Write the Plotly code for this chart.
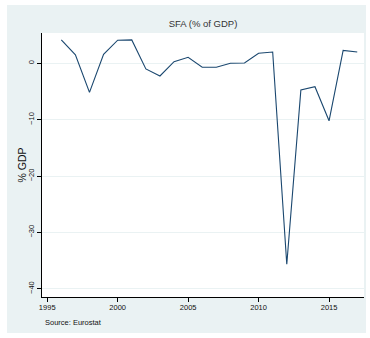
import plotly.graph_objects as go

# Stock-flow adjustment, % of GDP
years = list(range(1996, 2018))
sfa = [4.15, 1.5, -5.15, 1.6, 4.1, 4.15, -1.0, -2.25, 0.3, 1.07, -0.7,
       -0.7, 0.0, 0.06, 1.78, 2.0, -35.65, -4.74, -4.15, -10.2, 2.3, 2.0]

x_ticks = [1995, 2000, 2005, 2010, 2015]
y_ticks = [0, -10, -20, -30, -40]
y_tick_text = ["0", "\u221210", "\u221220", "\u221230", "\u221240"]

W, H = 370, 338
L, R, T, B = 42, 6, 33, 41

OUTER = "#eaf2f3"
LINE = "#1a476f"
FONT = "Liberation Sans, Arial, sans-serif"

fig = go.Figure()
fig.add_trace(go.Scatter(x=years, y=sfa, mode="lines",
                         line=dict(color=LINE, width=1.1),
                         hoverinfo="x+y", showlegend=False))

pw = W - L - R
ph = H - T - B


def px_to_paper_x(px):
    return (px - L) / pw


def px_to_paper_y(py):
    return (H - B - py) / ph


shapes = [
    # graph region background
    dict(type="rect", xref="paper", yref="paper", layer="below",
         x0=px_to_paper_x(7), x1=px_to_paper_x(366),
         y0=px_to_paper_y(333), y1=px_to_paper_y(5),
         fillcolor=OUTER, line=dict(width=0)),
    # plot region
    dict(type="rect", xref="paper", yref="paper", layer="below",
         x0=0, x1=1, y0=0, y1=1,
         fillcolor="white", line=dict(width=0)),
]

fig.update_layout(
    width=W, height=H,
    margin=dict(l=L, r=R, t=T, b=B, pad=0),
    paper_bgcolor="white",
    plot_bgcolor="white",
    font=dict(family=FONT, color="#000000", size=8),
    shapes=shapes,
    title=dict(text="SFA (% of GDP)", x=203 / W,
               xanchor="center", y=1 - 24 / H, yanchor="middle",
               font=dict(family=FONT, size=9.5, color="#333333")),
    xaxis=dict(range=[1994.63, 2017.48], tickvals=x_ticks,
               ticktext=[str(v) for v in x_ticks],
               showgrid=False, zeroline=False,
               showline=True, linecolor="black", linewidth=1,
               ticks="outside", ticklen=4, tickcolor="black", tickwidth=1,
               ticklabelstandoff=-1,
               tickfont=dict(size=7.5, family=FONT, color="#111111")),
    yaxis=dict(range=[-41.47, 5.38], tickvals=y_ticks, ticktext=y_tick_text,
               tickangle=-90,
               showgrid=True, gridcolor=OUTER, gridwidth=1,
               zeroline=False,
               showline=True, linecolor="black", linewidth=1,
               ticks="outside", ticklen=4, tickcolor="black", tickwidth=1,
               tickfont=dict(size=7.5, family=FONT, color="#111111")),
    annotations=[
        dict(text="% GDP", xref="paper", yref="paper",
             x=px_to_paper_x(21.5), y=0.5, textangle=-90,
             xanchor="center", yanchor="middle", showarrow=False,
             font=dict(size=10.5, family=FONT, color="#111111")),
        dict(text="Source: Eurostat", xref="paper", yref="paper",
             x=px_to_paper_x(43), y=px_to_paper_y(322),
             xanchor="left", yanchor="middle", showarrow=False,
             font=dict(size=7.5, family=FONT, color="#111111")),
    ],
)

fig.write_html("out.html")
